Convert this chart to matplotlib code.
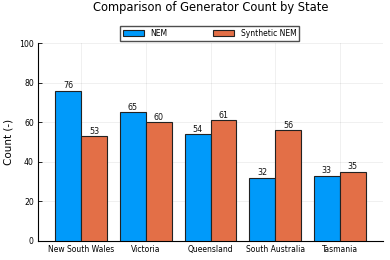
import numpy as np
import matplotlib.pyplot as plt

# ── Data ──────────────────────────────────────────────────────────────────────
states = ["New South Wales", "Victoria", "Queensland", "South Australia", "Tasmania"]
nem_counts = [76, 65, 54, 32, 33]
synthetic_counts = [53, 60, 61, 56, 35]
series_names = ["NEM", "Synthetic NEM"]
yticks = [0, 20, 40, 60, 80, 100]

# ── Style ─────────────────────────────────────────────────────────────────────
colors = ["#009AFA", "#E36F47"]
plt.rcParams.update({"font.family": "DejaVu Sans"})

fig = plt.figure(figsize=(3.9, 2.6), dpi=100)
ax = fig.add_axes([38 / 390, 19 / 260, 345 / 390, 198 / 260])

x = np.arange(len(states))
width = 0.4
for i, (vals, name) in enumerate(zip([nem_counts, synthetic_counts], series_names)):
    offset = (i - 0.5) * width
    bars = ax.bar(x + offset, vals, width, color=colors[i], edgecolor="#222222",
                  linewidth=0.8, label=name, zorder=3)
    for b, v in zip(bars, vals):
        ax.text(b.get_x() + b.get_width() / 2, v + 0.2, str(v), ha="center",
                va="bottom", fontsize=5.8, color="#111111", zorder=4)

ax.set_xlim(-0.67, 4.67)
ax.set_ylim(0, 100)
ax.set_xticks(x)
ax.set_xticklabels(states, fontsize=5.5)
ax.set_yticks(yticks)
ax.set_yticklabels([str(t) for t in yticks], fontsize=5.6)
ax.set_ylabel("Count (-)", fontsize=7.5, labelpad=4)
ax.tick_params(axis="y", direction="in", length=3, width=0.6, pad=3)
ax.tick_params(axis="x", length=0, pad=3)
ax.grid(True, color="#000000", alpha=0.07, linewidth=0.6, zorder=0)
ax.spines[["top", "right"]].set_visible(False)
ax.spines[["left", "bottom"]].set_linewidth(0.8)

# title centred over the plot area
fig.text((38 + 345 / 2) / 390, 1 - 8 / 260, "Comparison of Generator Count by State",
         ha="center", va="center", fontsize=8.3)
fig.legend(loc="upper center", bbox_to_anchor=(0.537, 0.915), ncol=2, fontsize=5.5,
           frameon=True, fancybox=False, edgecolor="#222222", columnspacing=6,
           handlelength=2.8, handleheight=0.8, borderpad=0.4)

fig.savefig("out.png", dpi=100)
